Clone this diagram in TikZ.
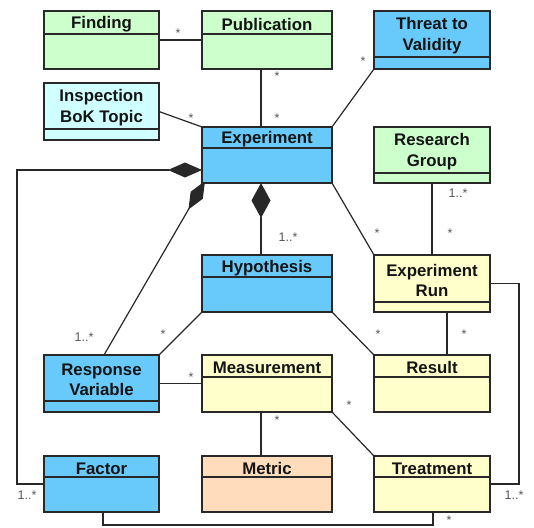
\documentclass[tikz,border=0pt]{standalone}
\usepackage{fontspec}
\setmainfont{Liberation Sans}
\usetikzlibrary{arrows.meta,calc}

\definecolor{clsgreen}{RGB}{204,255,204}
\definecolor{clsblue}{RGB}{104,202,250}
\definecolor{clscyan}{RGB}{208,255,255}
\definecolor{clsyellow}{RGB}{255,255,204}
\definecolor{clspeach}{RGB}{255,220,188}
\definecolor{linegrey}{RGB}{40,40,40}
\definecolor{multgrey}{RGB}{85,85,85}

\tikzset{
  classbox/.style={draw=linegrey, line width=1.3pt, inner sep=0pt, outer sep=0pt, anchor=north west},
  classname/.style={font=\bfseries\fontsize{16.8}{20.5}\selectfont, align=center, text=black!92, inner sep=0pt, yshift=-1.8pt},
  assoc/.style={draw=linegrey, line width=1.2pt},
  ownerbig/.style={assoc, {Diamond[length=34pt,width=15pt]}-},
  ownerdiag/.style={assoc, {Diamond[length=33pt,width=14pt]}-},
  ownerdown/.style={assoc, {Diamond[length=35pt,width=19pt]}-},
  mult/.style={font=\fontsize{12.5}{14}\selectfont, text=multgrey, inner sep=0pt},
}

% UML class: name, left, top, right, divider, bottom, fill, title
\newcommand\umlclass[8]{%
  \node[classbox, fill=#7, minimum width={(#4-#2)*1pt}, minimum height={(#6-#3)*1pt}] (#1) at (#2,#3) {};
  \draw[draw=linegrey, line width=1.3pt] (#2,#5) -- (#4,#5);
  \node[classname] (#1-name) at ({(#2+#4)/2},{(#3+#5)/2}) {#8};
}

\begin{document}
\begin{tikzpicture}[x=1pt,y=-1pt]
\useasboundingbox (0,0) rectangle (534,527);

% the diagonal composition is drawn first so the Experiment box covers its tip
\coordinate (rvtop) at (104,355);
\draw[ownerdiag] (205,181) -- (rvtop);

% classes
\umlclass{find}{44}{11}{159}{34}{69}{clsgreen}{Finding}
\umlclass{pub}{202}{11}{332}{34}{69}{clsgreen}{Publication}
\umlclass{threat}{374}{11}{490}{57}{69}{clsblue}{Threat to\\Validity}
\umlclass{bok}{44}{83}{159}{129}{140}{clscyan}{Inspection\\BoK Topic}
\umlclass{exp}{202}{127}{332}{148}{183}{clsblue}{Experiment}
\umlclass{group}{374}{127}{490}{173}{183}{clsgreen}{Research\\Group}
\umlclass{hyp}{202}{255}{332}{277}{312}{clsblue}{Hypothesis}
\umlclass{run}{374}{255}{490}{302}{312}{clsyellow}{Experiment\\Run}
\umlclass{resp}{44}{355}{159}{401}{412}{clsblue}{Response\\Variable}
\umlclass{meas}{202}{355}{332}{377}{412}{clsyellow}{Measurement}
\umlclass{result}{374}{355}{490}{377}{412}{clsyellow}{Result}
\umlclass{factor}{44}{456}{159}{477}{512}{clsblue}{Factor}
\umlclass{metric}{202}{456}{332}{477}{512}{clspeach}{Metric}
\umlclass{treat}{374}{456}{490}{477}{512}{clsyellow}{Treatment}

% connector end points
\coordinate (pubx) at ($(pub.south)+(-6,0)$);
\coordinate (expn) at ($(exp.north)+(-6,0)$);
\coordinate (exps) at ($(exp.south)+(-6,0)$);
\coordinate (hypn) at ($(hyp.north)+(-6,0)$);
\coordinate (runs) at ($(run.south)+(15,0)$);
\coordinate (resn) at ($(result.north)+(15,0)$);
\coordinate (meass) at ($(meas.south)+(-6,0)$);
\coordinate (metn) at ($(metric.north)+(-6,0)$);
\coordinate (facs) at ($(factor.south)+(1.5,0)$);
\coordinate (trs) at ($(treat.south)+(1,0)$);
\coordinate (expw) at ($(exp.west)+(0,15)$);
\coordinate (leftrail) at (17,0);
\coordinate (rightrail) at (519,0);
\coordinate (bottomrail) at (0,525);

% associations
\draw[assoc] (find.east) -- (pub.west);
\draw[assoc] (pubx) -- (expn);
\draw[assoc] (bok.east) -- (exp.north west);
\draw[assoc] (threat.south west) -- (exp.north east);
\draw[assoc] (exp.south east) -- (run.north west);
\draw[assoc] (group.south) -- (run.north);
\draw[assoc] (hyp.south west) -- (resp.north east);
\draw[assoc] (hyp.south east) -- (result.north west);
\draw[assoc] (runs) -- (resn);
\draw[assoc] (run.east) -- (run.east -| rightrail) |- (treat.east);
\draw[assoc] (resp.east) -- (meas.west);
\draw[assoc] (meass) -- (metn);
\draw[assoc] (meas.south east) -- (treat.north west);
\draw[assoc] (facs) -- (facs |- bottomrail) -- (trs |- bottomrail) -- (trs);

% compositions
\draw[ownerbig] (expw) -- (expw -| leftrail) |- (factor.west);
\draw[ownerdown] (exps) -- (hypn);

% multiplicities
\node[mult] (m1) at (178,33) {*};
\node[mult] (m2) at (277,76) {*};
\node[mult] (m3) at (277,118) {*};
\node[mult] (m4) at (191,118) {*};
\node[mult] (m5) at (363,61) {*};
\node[mult] (m6) at (288,237) {1..*};
\node[mult] (m7) at (377,233) {*};
\node[mult] (m8) at (458,193) {1..*};
\node[mult] (m9) at (450,233) {*};
\node[mult] (m10) at (84,337) {1..*};
\node[mult] (m11) at (163,334) {*};
\node[mult] (m12) at (378,334) {*};
\node[mult] (m13) at (464,334) {*};
\node[mult] (m14) at (191,377) {*};
\node[mult] (m15) at (277,420) {*};
\node[mult] (m16) at (349,405) {*};
\node[mult] (m17) at (27,495) {1..*};
\node[mult] (m18) at (514,495) {1..*};
\node[mult] (m19) at (449,520) {*};
\end{tikzpicture}
\end{document}
